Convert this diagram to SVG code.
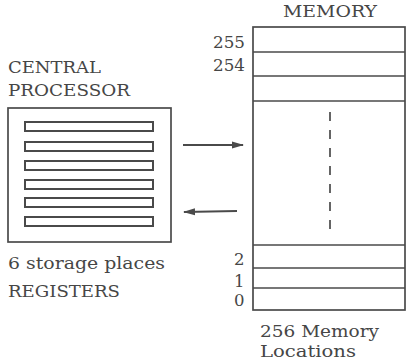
<svg xmlns="http://www.w3.org/2000/svg" width="406" height="360" viewBox="0 0 406 360">
<style>
.t{font-family:"DejaVu Serif","Liberation Serif",serif;font-size:16.5px;fill:#464646}
.b{fill:none;stroke:#4a4a4a;stroke-width:1.7}
.r{fill:none;stroke:#4a4a4a;stroke-width:2}
.c{stroke:#4a4a4a;stroke-width:1.9;fill:none}
</style>
<defs>
<marker id="ah" viewBox="0 0 12 8" refX="11" refY="4" markerWidth="12" markerHeight="8" markerUnits="userSpaceOnUse" orient="auto">
<path d="M0,0.5 L12,4 L0,7.5 Z" fill="#4a4a4a"/>
</marker>
</defs>
<rect width="406" height="360" fill="#fff"/>
<g id="processor">
<text class="t" x="8" y="73" textLength="93" lengthAdjust="spacingAndGlyphs">CENTRAL</text>
<text class="t" x="8" y="96" textLength="122" lengthAdjust="spacingAndGlyphs">PROCESSOR</text>
<rect class="b" x="8" y="108" width="163" height="134"/>
<rect class="r" x="25" y="122" width="128" height="9"/>
<rect class="r" x="25" y="142" width="128" height="9"/>
<rect class="r" x="25" y="161" width="128" height="9"/>
<rect class="r" x="25" y="180" width="128" height="9"/>
<rect class="r" x="25" y="198" width="128" height="9"/>
<rect class="r" x="25" y="217" width="128" height="9"/>
<text class="t" x="8" y="269" textLength="157" lengthAdjust="spacingAndGlyphs">6 storage places</text>
<text class="t" x="8" y="297" textLength="112" lengthAdjust="spacingAndGlyphs">REGISTERS</text>
</g>
<g id="memory">
<text class="t" x="283" y="17" textLength="94" lengthAdjust="spacingAndGlyphs">MEMORY</text>
<rect class="b" x="253" y="27" width="152" height="283"/>
<line class="b" x1="253" y1="52" x2="405" y2="52"/>
<line class="b" x1="253" y1="76" x2="405" y2="76"/>
<line class="b" x1="253" y1="101" x2="405" y2="101"/>
<line class="b" x1="253" y1="245" x2="405" y2="245"/>
<line class="b" x1="253" y1="268" x2="405" y2="268"/>
<line class="b" x1="253" y1="288" x2="405" y2="288"/>
<line x1="330" y1="112" x2="330" y2="230" stroke="#4a4a4a" stroke-width="1.7" stroke-dasharray="9 9"/>
<text class="t" x="213" y="48" textLength="32" lengthAdjust="spacingAndGlyphs">255</text>
<text class="t" x="213" y="71" textLength="32" lengthAdjust="spacingAndGlyphs">254</text>
<text class="t" x="234" y="265">2</text>
<text class="t" x="234" y="287">1</text>
<text class="t" x="234" y="306">0</text>
<text class="t" x="260" y="337" textLength="119" lengthAdjust="spacingAndGlyphs">256 Memory</text>
<text class="t" x="260" y="357" textLength="96" lengthAdjust="spacingAndGlyphs">Locations</text>
</g>
<g id="connectors">
<line class="c" x1="183" y1="145" x2="243" y2="145" marker-end="url(#ah)"/>
<line class="c" x1="237" y1="211" x2="184" y2="212" marker-end="url(#ah)"/>
</g>
</svg>
